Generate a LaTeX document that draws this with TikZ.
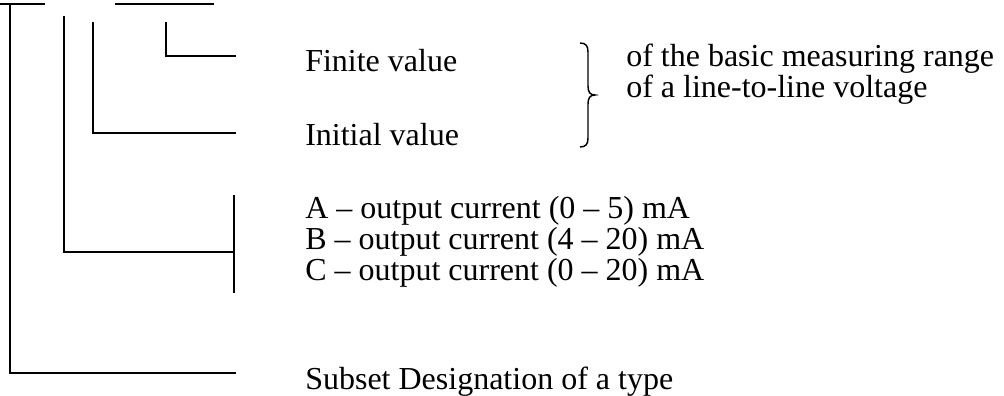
\documentclass[tikz,border=0pt]{standalone}
\usepackage{fontspec}
\setmainfont{Liberation Serif}
\tikzset{
  ln/.style={line width=1.1pt, line cap=rect},
  txt/.style={anchor=base west, inner sep=0pt, font=\fontsize{24}{26}\selectfont}
}
\begin{document}
\begin{tikzpicture}[x=0.75pt, y=-0.75pt]
\useasboundingbox (0,0) rectangle (1004,396);
% placeholders of the designation
\coordinate (p1a) at (0,4);   \coordinate (p1b) at (44,4);
\coordinate (p2a) at (116,4); \coordinate (p2b) at (213,4);
\draw[ln] (p1a) -- (p1b);
\draw[ln] (p2a) -- (p2b);
% texts
\node[txt] (fin) at (305,71) {Finite value};
\node[txt] (ini) at (305,145) {Initial value};
\node[txt, align=left, font=\fontsize{24}{20.25}\selectfont] (r) at (626,97)
  {of the basic measuring range\\of a line-to-line voltage};
\node[txt] (oa) at (305,218) {A -- output current (0 -- 5) mA};
\node[txt] (ob) at (305,249) {B -- output current (4 -- 20) mA};
\node[txt] (oc) at (305,280) {C -- output current (0 -- 20) mA};
\node[txt] (sub) at (305,389) {Subset Designation of a type};
% leaders
\coordinate (v1t) at (10,4);   \coordinate (v1b) at (10,373);  \coordinate (h1) at (235,373);
\coordinate (v2t) at (64,17);  \coordinate (v2b) at (64,252);  \coordinate (h2) at (234,252);
\coordinate (bt) at (234,196); \coordinate (bb) at (234,292);
\coordinate (v3t) at (93,23);  \coordinate (v3b) at (93,133);  \coordinate (h3) at (235,133);
\coordinate (v4t) at (166,23); \coordinate (v4b) at (166,56);  \coordinate (h4) at (235,56);
\draw[ln] (v1t) -- (v1b) -- (h1);
\draw[ln] (v2t) -- (v2b) -- (h2);
\draw[ln] (bt) -- (bb);
\draw[ln] (v3t) -- (v3b) -- (h3);
\draw[ln] (v4t) -- (v4b) -- (h4);
% brace
\coordinate (bra) at (580,43);
\coordinate (brm) at (595,95);
\coordinate (brz) at (580,147);
\draw[line width=1.1pt] (bra) .. controls (586,43) and (588,46) .. (588,52)
  -- (588,86) .. controls (588,92) and (590,95) .. (brm)
  .. controls (590,95) and (588,98) .. (588,104)
  -- (588,138) .. controls (588,144) and (586,147) .. (brz);
\end{tikzpicture}
\end{document}
